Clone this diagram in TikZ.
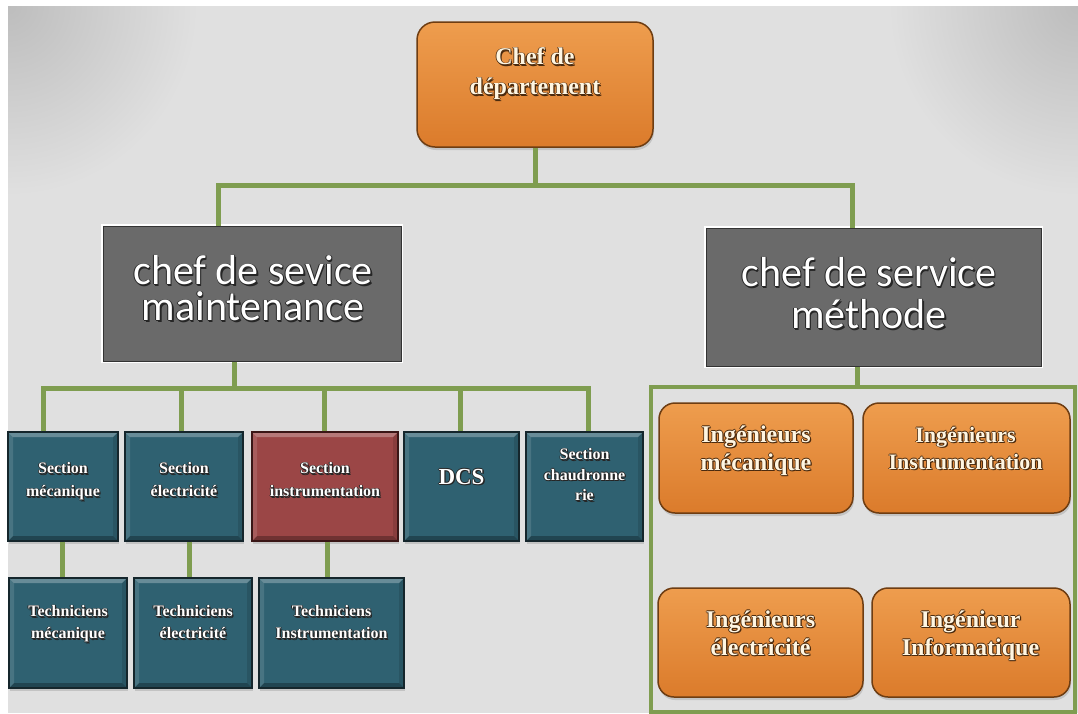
\documentclass[tikz,border=0pt]{standalone}
\usepackage{fontspec}
\setmainfont{Liberation Serif}
\newfontfamily\calibfont{Carlito}
\usetikzlibrary{shadows}

\definecolor{bgc}{HTML}{E0E0E0}
\definecolor{bgdark}{HTML}{BDBDBD}
\definecolor{linkgreen}{HTML}{7F9D50}
\definecolor{tealfill}{HTML}{2F6171}
\definecolor{tealedge}{HTML}{15262C}
\definecolor{redfill}{HTML}{9B4646}
\definecolor{rededge}{HTML}{3A1616}
\definecolor{orangetop}{HTML}{EE9D4E}
\definecolor{orangebot}{HTML}{DB7B2B}
\definecolor{orangeedge}{HTML}{6E3D12}
\definecolor{greyfill}{HTML}{6A6A6A}
\definecolor{cream}{HTML}{FFF6E2}
\definecolor{brownshadow}{HTML}{4A2A0E}

% white text with a dark rim: #1 centre, #2 style, #3 rim colour, #4 text
\newcommand\outlinedtext[4]{%
  \foreach \ox/\oy in {1.3/-1.3,0.8/0,-0.8/0,0/0.8,0/-0.8}
    {\node[#2, text=#3] at ([shift={(\ox pt,\oy pt)}]#1) {#4};}
  \node[#2] at (#1) {#4};}

\begin{document}
\begin{tikzpicture}[x=1pt,y=-1pt,
  conn/.style={draw=linkgreen, line width=5pt},
  bevelled/.style={path picture={
    \fill[white,opacity=.28] (path picture bounding box.north west) -- (path picture bounding box.north east)
      -- ([shift={(-5pt,-5pt)}]path picture bounding box.north east) -- ([shift={(5pt,-5pt)}]path picture bounding box.north west) -- cycle;
    \fill[black,opacity=.28] (path picture bounding box.south west) -- (path picture bounding box.south east)
      -- ([shift={(-5pt,5pt)}]path picture bounding box.south east) -- ([shift={(5pt,5pt)}]path picture bounding box.south west) -- cycle;
    \fill[white,opacity=.12] (path picture bounding box.north west) -- ([shift={(5pt,-5pt)}]path picture bounding box.north west)
      -- ([shift={(5pt,5pt)}]path picture bounding box.south west) -- (path picture bounding box.south west) -- cycle;
    \fill[black,opacity=.12] (path picture bounding box.north east) -- ([shift={(-5pt,-5pt)}]path picture bounding box.north east)
      -- ([shift={(-5pt,5pt)}]path picture bounding box.south east) -- (path picture bounding box.south east) -- cycle;
  }},
  sect/.style={rectangle, inner sep=0pt, draw=tealedge, line width=1.2pt, fill=tealfill, bevelled,
    drop shadow={shadow xshift=1pt, shadow yshift=-3pt, opacity=.3}},
  redsect/.style={sect, draw=rededge, fill=redfill},
  orangebox/.style={rectangle, rounded corners=16pt, inner sep=0pt, draw=orangeedge, line width=1.5pt,
    top color=orangetop, bottom color=orangebot,
    drop shadow={shadow xshift=1pt, shadow yshift=-3pt, opacity=.3}},
  greybox/.style={rectangle, inner sep=0pt, fill=greyfill, draw=black!80, line width=1pt,
    preaction={draw=white, line width=4pt}},
  grouprect/.style={rectangle, inner sep=0pt, draw=linkgreen, line width=4pt},
  chtxt/.style={align=center, inner sep=0pt, text=cream, font=\bfseries\fontsize{24pt}{30pt}\selectfont},
  itxt/.style={align=center, inner sep=0pt, text=cream, font=\bfseries\fontsize{24pt}{28pt}\selectfont},
  itxtsmall/.style={itxt, font=\bfseries\fontsize{22pt}{27pt}\selectfont},
  gtxtL/.style={align=center, inner sep=0pt, text=white, font=\calibfont\fontsize{42pt}{36pt}\selectfont},
  gtxtR/.style={gtxtL, font=\calibfont\fontsize{42pt}{42pt}\selectfont},
  stxt/.style={align=center, inner sep=0pt, text=white, font=\bfseries\fontsize{16pt}{23pt}\selectfont},
  stxtthree/.style={stxt, font=\bfseries\fontsize{16pt}{20.5pt}\selectfont},
  dcstxt/.style={stxt, font=\bfseries\fontsize{23pt}{27pt}\selectfont},
  ttxt/.style={stxt, font=\bfseries\fontsize{16pt}{22pt}\selectfont},
]
\useasboundingbox (0,0) rectangle (1078,713);

% page and backdrop, darker towards the two upper corners
\fill[white] (0,0) rectangle (1078,713);
\fill[bgc] (8,6) rectangle (1078,713);
\begin{scope}
  \clip (8,6) rectangle (1078,713);
  \shade[inner color=bgdark, outer color=bgc] (8,6) circle[radius=190pt];
  \shade[inner color=bgdark, outer color=bgc] (1078,6) circle[radius=190pt];
\end{scope}

% boxes
\node[orangebox, rounded corners=18pt, minimum width=236pt, minimum height=125pt] (chef) at (535,84.5) {};
\node[greybox, minimum width=298pt, minimum height=135pt] (maint) at (252,293.5) {};
\node[greybox, minimum width=335pt, minimum height=138pt] (meth) at (873.5,297) {};

\node[sect,    minimum width=110pt, minimum height=109pt] (smeca) at (63,486.5) {};
\node[sect,    minimum width=118pt, minimum height=109pt] (selec) at (184,486.5) {};
\node[redsect, minimum width=146pt, minimum height=109pt] (sinst) at (325,486.5) {};
\node[sect,    minimum width=115pt, minimum height=109pt] (sdcs)  at (461.5,486.5) {};
\node[sect,    minimum width=117pt, minimum height=109pt] (schau) at (584.5,486.5) {};

\node[sect, minimum width=118pt, minimum height=110pt] (tmeca) at (68,633) {};
\node[sect, minimum width=118pt, minimum height=110pt] (telec) at (193,633) {};
\node[sect, minimum width=145pt, minimum height=110pt] (tinst) at (331.5,633) {};

\node[grouprect, minimum width=424pt, minimum height=325pt] (ing) at (863,549.5) {};
\node[orangebox, minimum width=194pt, minimum height=110pt] (imeca) at (756,458) {};
\node[orangebox, minimum width=207pt, minimum height=110pt] (iinst) at (966.5,458) {};
\node[orangebox, minimum width=205pt, minimum height=109pt] (ielec) at (760.5,642.5) {};
\node[orangebox, minimum width=198pt, minimum height=109pt] (iinfo) at (971,642.5) {};

% connectors
\coordinate (jl) at (218,185);
\coordinate (jr) at (852,185);
\draw[conn] (chef.south) -- (chef.south |- jl);
\draw[conn] (maint.north -| jl) |- (jr) -- (meth.north -| jr);

\coordinate (bm) at (234,388);
\coordinate (bl) at (43,388);
\coordinate (br) at (588,388);
\coordinate (b2) at (181,388);
\coordinate (b3) at (324,388);
\coordinate (b4) at (460,388);
\draw[conn] (maint.south -| bm) -- (bm);
\draw[conn] (smeca.north -| bl) |- (br) -- (schau.north -| br);
\draw[conn] (b2) -- (selec.north -| b2);
\draw[conn] (b3) -- (sinst.north -| b3);
\draw[conn] (b4) -- (sdcs.north -| b4);

\coordinate (v1) at (62,560);
\coordinate (v2) at (189,560);
\coordinate (v3) at (327,560);
\draw[conn] (smeca.south -| v1) -- (tmeca.north -| v1);
\draw[conn] (selec.south -| v2) -- (telec.north -| v2);
\draw[conn] (sinst.south -| v3) -- (tinst.north -| v3);

\coordinate (vm) at (857,376);
\draw[conn] (meth.south -| vm) -- (ing.north -| vm);

% labels
\outlinedtext{535,74}{chtxt}{brownshadow}{Chef de\\département}
\outlinedtext{253,288.5}{gtxtL}{black!85}{chef de sevice\\maintenance}
\outlinedtext{869,293.5}{gtxtR}{black!85}{chef de service\\méthode}

\outlinedtext{63,481.5}{stxt}{black!85}{Section\\mécanique}
\outlinedtext{184,480}{stxt}{black!85}{Section\\électricité}
\outlinedtext{325,480}{stxt}{black!85}{Section\\instrumentation}
\outlinedtext{461.5,477}{dcstxt}{black!85}{DCS}
\outlinedtext{584.5,475}{stxtthree}{black!85}{Section\\chaudronne\\rie}

\outlinedtext{68,624}{ttxt}{black!85}{Techniciens\\mécanique}
\outlinedtext{193,622.5}{ttxt}{black!85}{Techniciens\\électricité}
\outlinedtext{331.5,622.5}{ttxt}{black!85}{Techniciens\\Instrumentation}

\outlinedtext{756,450.5}{itxt}{brownshadow}{Ingénieurs\\mécanique}
\outlinedtext{965.5,448}{itxtsmall}{brownshadow}{Ingénieurs\\Instrumentation}
\outlinedtext{760.5,633}{itxt}{brownshadow}{Ingénieurs\\électricité}
\outlinedtext{970.5,635.5}{itxt}{brownshadow}{Ingénieur\\Informatique}
\end{tikzpicture}
\end{document}
